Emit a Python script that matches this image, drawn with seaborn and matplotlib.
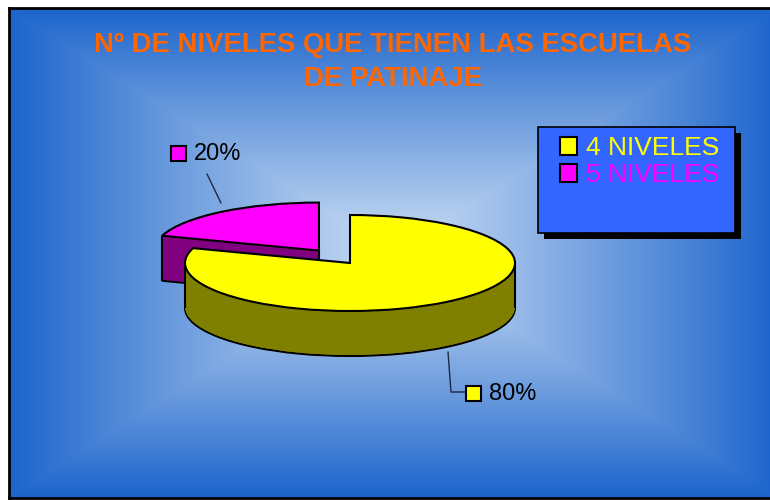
import matplotlib.pyplot as plt
import numpy as np
import seaborn as sns
from matplotlib.patches import Patch, Rectangle

# chart data
categories = ["4 NIVELES", "5 NIVELES"]
values = [80, 20]
top_colors = ["#FFFF00", "#FF00FF"]
side_colors = ["#808000", "#800080"]
explode = [0, 0.32]
title = "Nº DE NIVELES QUE TIENEN LAS ESCUELAS\nDE PATINAJE"

sns.set_theme(style="white")
plt.rcParams["font.family"] = ["Liberation Sans", "DejaVu Sans"]

W, H = 770, 500
fig = plt.figure(figsize=(W / 100, H / 100), dpi=100)
fig.patch.set_facecolor("white")


def px(x0, y0, w, h):
    """pixel box (origin top-left) -> figure fraction rect"""
    return [x0 / W, 1 - (y0 + h) / H, w / W, h / H]


# background: rectangular gradient from the center
bg = fig.add_axes(px(9, 8, 770, 490))
yy, xx = np.mgrid[-1:1:300j, -1:1:470j]
t = np.maximum(np.abs(xx), np.abs(yy))
c_mid = np.array([200, 220, 243]) / 255
c_edge = np.array([28, 100, 204]) / 255
img = c_mid + (c_edge - c_mid) * (t[..., None] ** 1.1)
bg.imshow(img, extent=(0, 1, 0, 1), aspect="auto", interpolation="bilinear")
bg.set_xticks([])
bg.set_yticks([])
for sp in bg.spines.values():
    sp.set_color("black")
    sp.set_linewidth(2)

# pie axes: 1 data unit = 165 px in x, 48 px in y (squashed -> 3D look)
ax = fig.add_axes(px(20, 167, 660, 192))
ax.patch.set_visible(False)
depth = 45 / 48
shifts = np.linspace(-depth, 0, 46)[:-1]
for k, dz in enumerate(shifts):
    ax.pie(values, colors=side_colors, explode=explode, startangle=90,
           counterclock=False, center=(0, dz), frame=False,
           wedgeprops=dict(linewidth=1.5 if k == 0 else 0, edgecolor="black", zorder=1))

wedges, _ = ax.pie(values, colors=top_colors, explode=explode, startangle=90,
                   counterclock=False, frame=False,
                   wedgeprops=dict(linewidth=1.5, edgecolor="black", zorder=3))

# vertical silhouette edges of the extruded slices
for i, w in enumerate(wedges):
    ang = np.radians(np.linspace(w.theta1, w.theta2, 721))
    xs = w.center[0] + w.r * np.cos(ang)
    ys = w.center[1] + w.r * np.sin(ang)
    j = xs.argmin()
    ax.vlines(xs[j], ys[j] - depth, ys[j], color="black", lw=1.5, zorder=2)
    if i == 0:
        j = xs.argmax()
        ax.vlines(xs[j], ys[j] - depth, ys[j], color="black", lw=1.5, zorder=2)
    else:
        ax.vlines(w.center[0], w.center[1] - depth, w.center[1], color="black", lw=1.5, zorder=2)

ax.set_aspect("auto")
ax.set_xlim(-2, 2)
ax.set_ylim(-2, 2)
ax.axis("off")

# overlay in pixel coordinates for title, labels and legend
ov = fig.add_axes([0, 0, 1, 1])
ov.set_xlim(0, W)
ov.set_ylim(H, 0)
ov.axis("off")

ov.text(393, 62, title, ha="center", va="center", fontsize=19.8, fontweight="bold",
        color="#FF6600", linespacing=1.45)

# percentage labels
total = sum(values)
pct = [f"{v / total * 100:.0f}%" for v in values]
label_pos = [(466, 386), (171, 146)]
for (x0, y0), txt, col in zip(label_pos, pct, top_colors):
    ov.add_patch(Rectangle((x0, y0), 15, 15, facecolor=col, edgecolor="black", lw=1.5))
    ov.text(x0 + 23, y0 + 8, txt, ha="left", va="center", fontsize=17, color="black")

ov.plot([207, 221], [174, 203], color="#202840", lw=1)
ov.plot([448, 451, 465], [352, 392, 392], color="#202840", lw=1)

# legend box with shadow
ov.add_patch(Rectangle((544, 133), 197, 106, facecolor="black", edgecolor="none"))
ov.add_patch(Rectangle((538, 127), 197, 106, facecolor="#3366FF", edgecolor="black", lw=1.2))
handles = [Patch(facecolor=c, edgecolor="black", lw=1.5) for c in top_colors]
ov.legend(handles=handles, labels=categories, loc="upper left",
          bbox_to_anchor=(560, 136), bbox_transform=ov.transData,
          frameon=False, fontsize=19, labelcolor=top_colors,
          handlelength=0.65, handleheight=0.65, handletextpad=0.35,
          labelspacing=0.13, borderpad=0, borderaxespad=0)

fig.savefig("out.png", dpi=100)
